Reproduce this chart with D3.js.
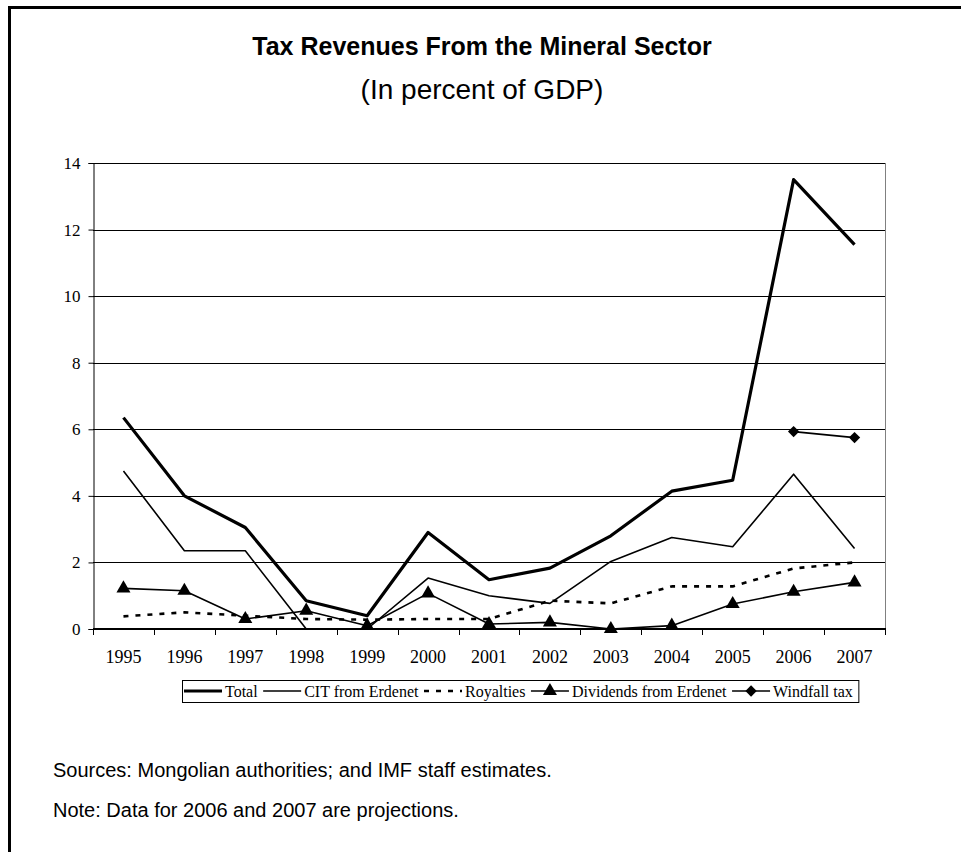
<!DOCTYPE html>
<html>
<head>
<meta charset="utf-8">
<script src="https://cdn.jsdelivr.net/npm/d3@7"></script>
<style>
  html, body { margin: 0; padding: 0; background: #fff; }
  svg { display: block; }
</style>
</head>
<body>
<svg id="chart" width="961" height="852"></svg>
<script>
// Tax revenues from the mineral sector, in percent of GDP
const years = ["1995","1996","1997","1998","1999","2000","2001","2002","2003","2004","2005","2006","2007"];
const total      = [6.35, 4.0, 3.05, 0.85, 0.4, 2.9, 1.48, 1.83, 2.8, 4.14, 4.47, 13.5, 11.55];
const citErdenet = [4.75, 2.35, 2.35, 0.0, 0.0, 1.53, 1.0, 0.77, 2.03, 2.75, 2.47, 4.65, 2.42];
const royalties  = [0.38, 0.5, 0.4, 0.3, 0.28, 0.3, 0.3, 0.85, 0.77, 1.28, 1.28, 1.82, 2.0];
const dividends  = [1.22, 1.15, 0.3, 0.55, 0.1, 1.07, 0.15, 0.2, 0.0, 0.1, 0.75, 1.12, 1.4];
const windfall   = [null, null, null, null, null, null, null, null, null, null, null, 5.93, 5.75];
const yTicks = [0, 2, 4, 6, 8, 10, 12, 14];

const svg = d3.select("#chart");
const sans = "Arial, 'Liberation Sans', sans-serif";
const serif = "'Times New Roman', 'Liberation Serif', serif";

// outer frame
svg.append("rect")
  .attr("x", 9.5).attr("y", 7.5)
  .attr("width", 1000).attr("height", 1000)
  .attr("fill", "none").attr("stroke", "#000").attr("stroke-width", 3);

// titles
svg.append("text")
  .attr("x", 482).attr("y", 55)
  .attr("text-anchor", "middle")
  .attr("font-family", sans)
  .attr("font-weight", "bold").attr("font-size", 25)
  .text("Tax Revenues From the Mineral Sector");
svg.append("text")
  .attr("x", 482).attr("y", 99)
  .attr("text-anchor", "middle")
  .attr("font-family", sans)
  .attr("font-size", 28)
  .text("(In percent of GDP)");

const plot = { left: 93, right: 885, top: 163, bottom: 629 };

const x = d3.scaleBand().domain(years).range([plot.left, plot.right]).paddingInner(0).paddingOuter(0);
const y = d3.scaleLinear().domain([0, 14]).range([plot.bottom, plot.top]);
const cx = d => x(d) + x.bandwidth() / 2;

const g = svg.append("g");

// horizontal gridlines
g.append("g").selectAll("line")
  .data(yTicks.filter(t => t > 0))
  .join("line")
  .attr("x1", plot.left).attr("x2", plot.right)
  .attr("y1", d => Math.round(y(d)) + 0.5).attr("y2", d => Math.round(y(d)) + 0.5)
  .attr("stroke", "#000").attr("stroke-width", 1);

// plot area right border
g.append("line")
  .attr("x1", plot.right + 0.5).attr("x2", plot.right + 0.5)
  .attr("y1", plot.top).attr("y2", plot.bottom)
  .attr("stroke", "#808080").attr("stroke-width", 1);

// y axis
const yAxis = d3.axisLeft(y).tickValues(yTicks).tickSize(5).tickPadding(8).tickFormat(d3.format("d"));
const yg = g.append("g").attr("transform", `translate(${plot.left + 0.5},0)`).call(yAxis);
yg.select(".domain").attr("stroke", "#000");
yg.selectAll(".tick line").attr("stroke", "#000");
yg.selectAll(".tick text")
  .attr("font-family", serif)
  .attr("font-size", 17).attr("fill", "#000");

// x axis with ticks between categories
const xg = g.append("g").attr("transform", `translate(0,${plot.bottom})`);
xg.append("line")
  .attr("x1", plot.left).attr("x2", plot.right + 1)
  .attr("y1", 0).attr("y2", 0)
  .attr("stroke", "#000").attr("stroke-width", 2);
const boundaries = years.map(d => x(d)).concat([plot.right]);
xg.selectAll("line.tk")
  .data(boundaries)
  .join("line").attr("class", "tk")
  .attr("x1", d => Math.round(d) + 0.5).attr("x2", d => Math.round(d) + 0.5)
  .attr("y1", 0).attr("y2", 6)
  .attr("stroke", "#000").attr("stroke-width", 1);
xg.selectAll("text")
  .data(years)
  .join("text")
  .attr("x", d => cx(d)).attr("y", 34)
  .attr("text-anchor", "middle")
  .attr("font-family", serif)
  .attr("font-size", 18)
  .text(d => d);

// series
const line = d3.line()
  .defined(d => d.v !== null)
  .x(d => cx(d.year))
  .y(d => y(d.v));

const asPoints = arr => years.map((yr, i) => ({ year: yr, v: arr[i] }));

const series = [
  { name: "Total", data: total, width: 3.2, dash: null, marker: null },
  { name: "CIT from Erdenet", data: citErdenet, width: 1.6, dash: null, marker: null },
  { name: "Royalties", data: royalties, width: 2.6, dash: "5,7", marker: null },
  { name: "Dividends from Erdenet", data: dividends, width: 1.6, dash: null, marker: "triangle" },
  { name: "Windfall tax", data: windfall, width: 1.6, dash: null, marker: "diamond" }
];

const triangle = d3.symbol().type(d3.symbolTriangle).size(85);
const diamond = d3.symbol().type(d3.symbolSquare).size(64);

const drawOrder = [2, 1, 3, 4, 0];
drawOrder.forEach(i => {
  const s = series[i];
  const pts = asPoints(s.data);
  g.append("path")
    .datum(pts)
    .attr("d", line)
    .attr("fill", "none")
    .attr("stroke", "#000")
    .attr("stroke-width", s.width)
    .attr("stroke-linejoin", "round")
    .attr("stroke-dasharray", s.dash);
  if (s.marker) {
    g.append("g").selectAll("path")
      .data(pts.filter(d => d.v !== null))
      .join("path")
      .attr("d", s.marker === "triangle" ? triangle : diamond)
      .attr("transform", d => `translate(${cx(d.year)},${y(d.v)})` + (s.marker === "diamond" ? " rotate(45)" : ""))
      .attr("fill", "#000");
  }
});

// legend
const legend = svg.append("g");
const lgLeft = 182, lgTop = 680, lgHeight = 22;
let cursor = lgLeft + 2;
const sampleLen = 38;
series.forEach(s => {
  const midY = lgTop + lgHeight / 2;
  legend.append("line")
    .attr("x1", cursor).attr("x2", cursor + sampleLen)
    .attr("y1", midY).attr("y2", midY)
    .attr("stroke", "#000").attr("stroke-width", s.width)
    .attr("stroke-dasharray", s.dash);
  if (s.marker) {
    legend.append("path")
      .attr("d", s.marker === "triangle" ? triangle : diamond)
      .attr("transform", `translate(${cursor + sampleLen / 2},${midY})` + (s.marker === "diamond" ? " rotate(45)" : ""))
      .attr("fill", "#000");
  }
  const t = legend.append("text")
    .attr("x", cursor + sampleLen + 3).attr("y", midY + 5.5)
    .attr("font-family", serif).attr("font-size", 16)
    .text(s.name);
  cursor += sampleLen + 3 + t.node().getComputedTextLength() + 5.5;
});
legend.insert("rect", ":first-child")
  .attr("x", lgLeft + 0.5).attr("y", lgTop + 0.5)
  .attr("width", cursor - lgLeft).attr("height", lgHeight)
  .attr("fill", "#fff").attr("stroke", "#000").attr("stroke-width", 1);

// notes
const notes = ["Sources: Mongolian authorities; and IMF staff estimates.",
               "Note: Data for 2006 and 2007 are projections."];
svg.append("g").selectAll("text")
  .data(notes)
  .join("text")
  .attr("x", 53).attr("y", (d, i) => 777 + i * 40)
  .attr("font-family", sans)
  .attr("font-size", 20)
  .text(d => d);
</script>
</body>
</html>
